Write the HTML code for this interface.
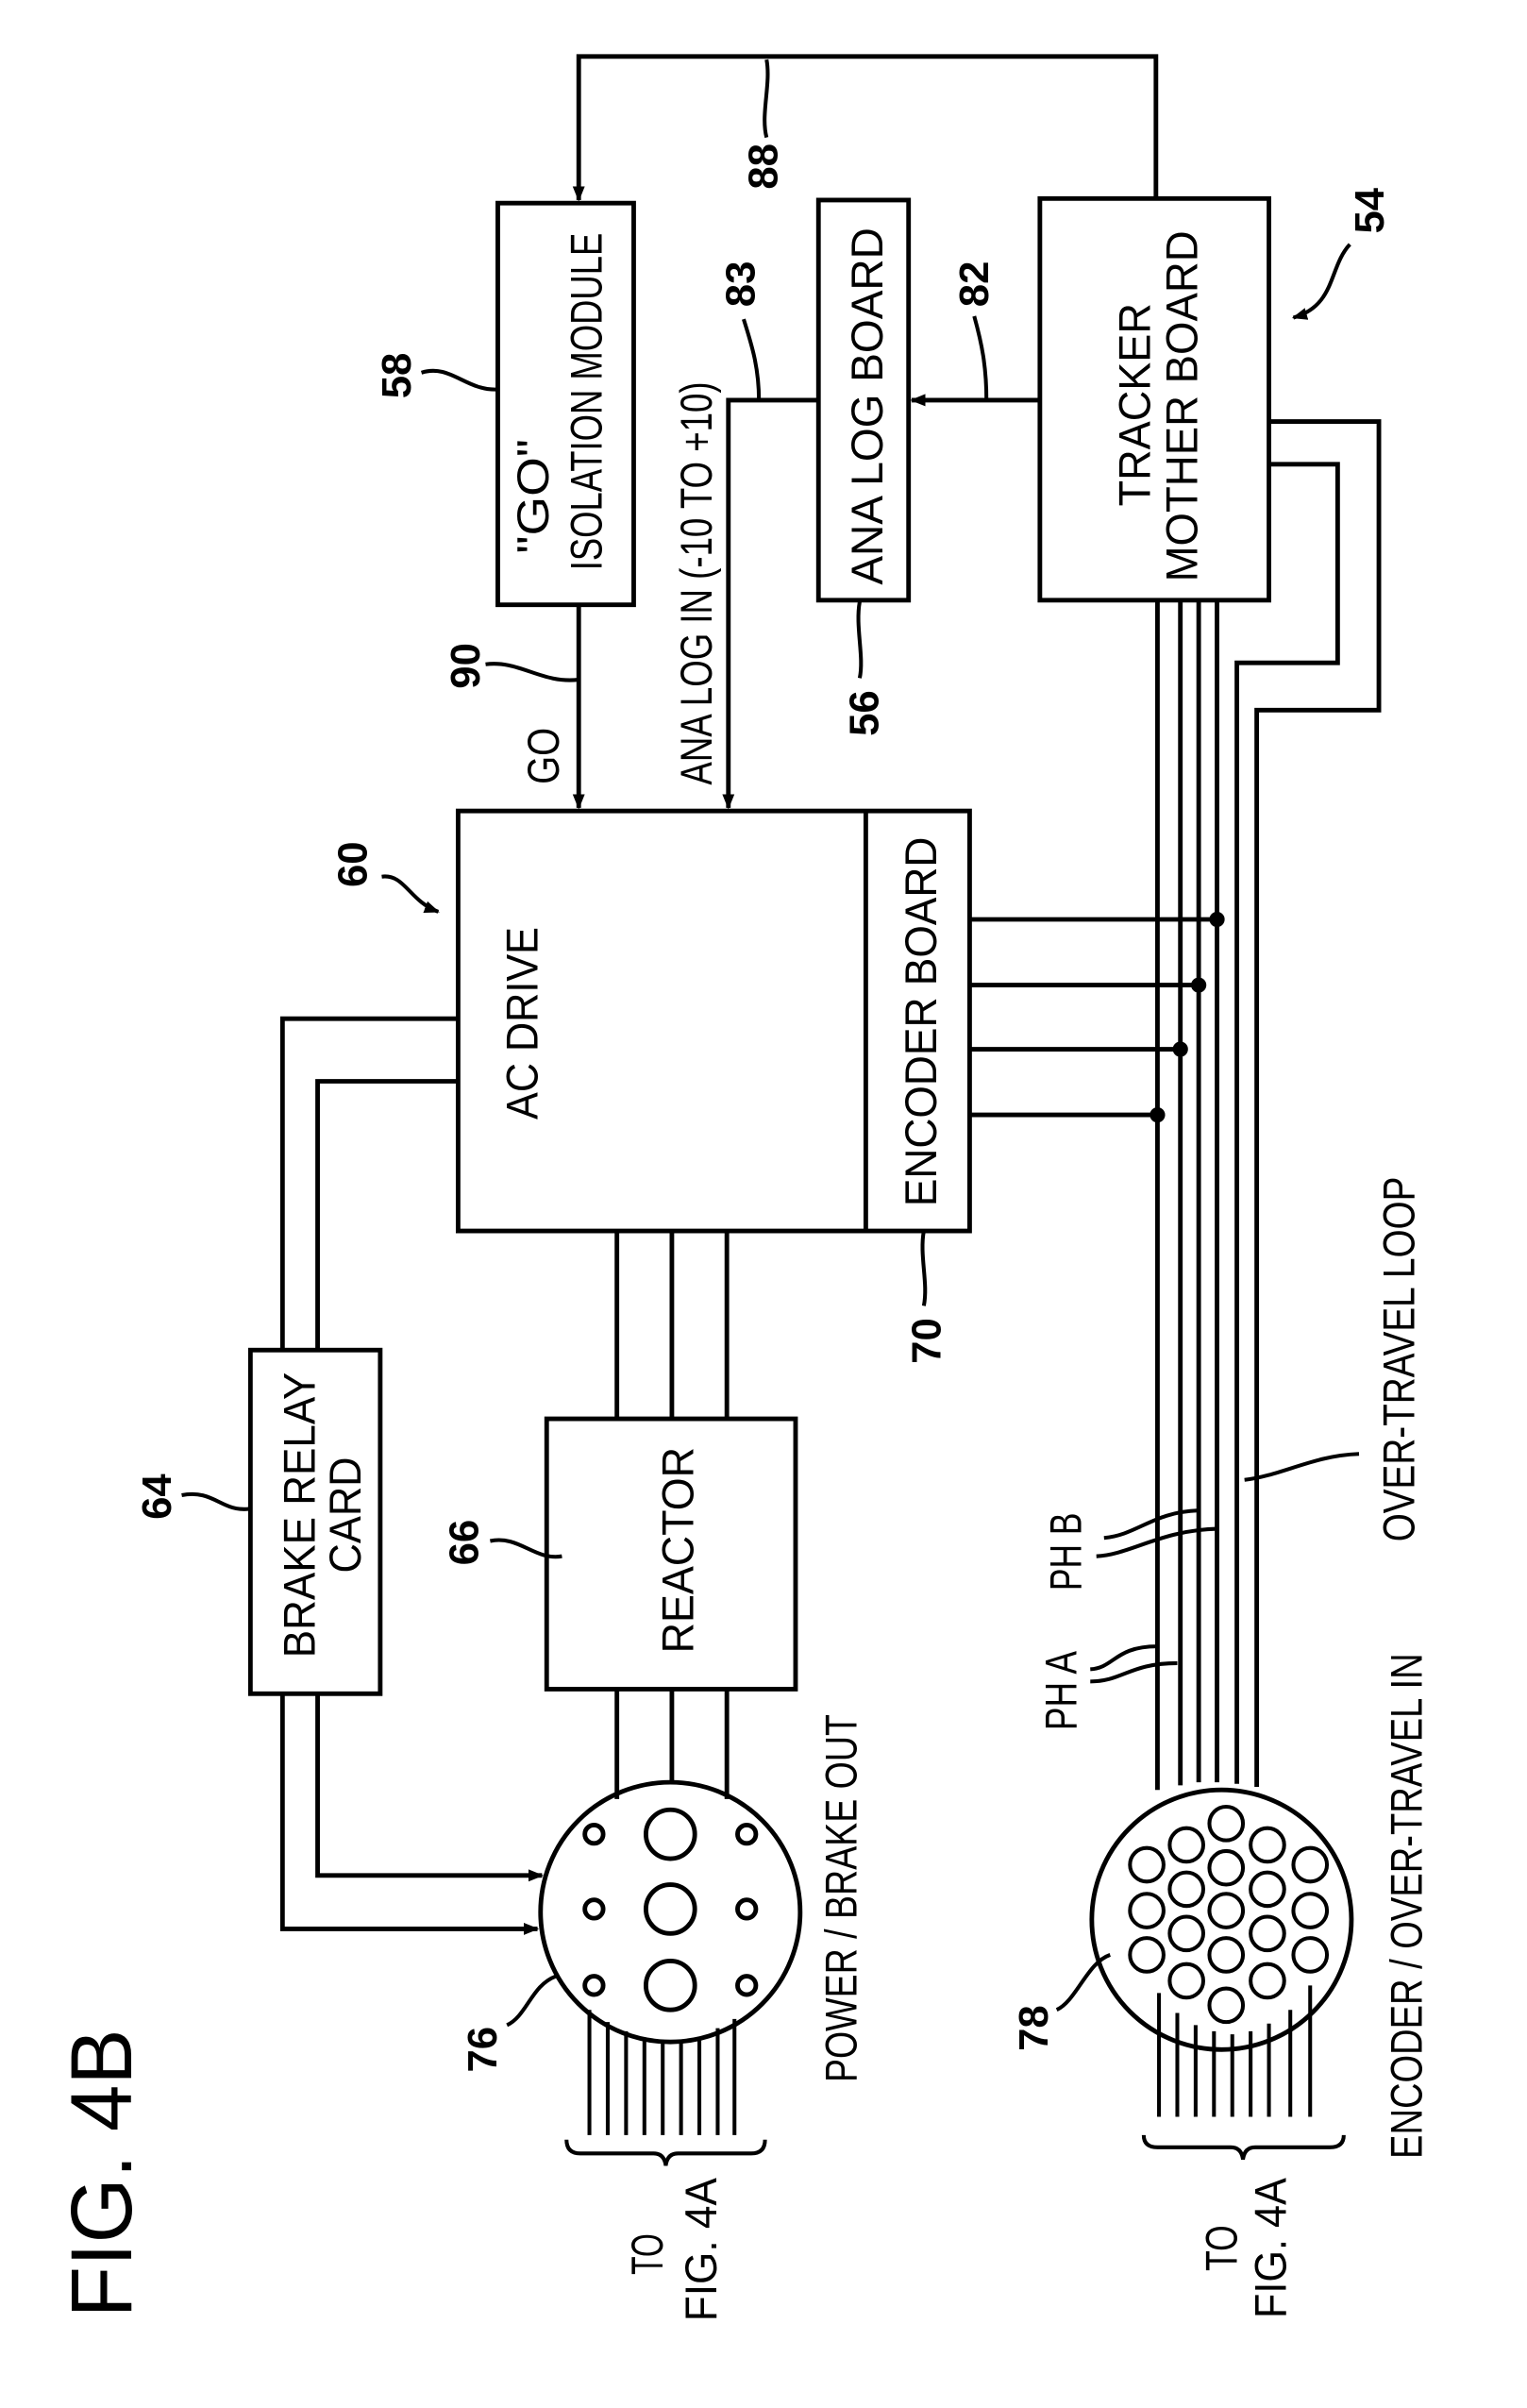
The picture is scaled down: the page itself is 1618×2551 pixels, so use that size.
<!DOCTYPE html>
<html><head><meta charset="utf-8"><style>
html,body{margin:0;padding:0;background:#fff;}
svg{display:block;}
text{font-family:"Liberation Sans",sans-serif;fill:#000;}
.t{font-size:29px;}
.n{font-size:27px;font-weight:bold;}
</style></head><body>
<svg width="1618" height="2551" viewBox="0 0 1000 1576.7" preserveAspectRatio="none" xmlns="http://www.w3.org/2000/svg">
<defs>
<marker id="a" markerWidth="10" markerHeight="10" refX="9" refY="5" orient="auto" markerUnits="userSpaceOnUse">
<path d="M0,1 L10,5 L0,9 Z" fill="#000"/></marker>
</defs>
<g fill="none" stroke="#000" stroke-width="3">
<!-- boxes -->
<rect x="326" y="133" width="89" height="263"/>
<rect x="536" y="131" width="59" height="262"/>
<rect x="681" y="130" width="150" height="263"/>
<rect x="300" y="531" width="335" height="275"/>
<line x1="567" y1="531" x2="567" y2="806"/>
<rect x="164" y="884" width="85" height="225"/>
<rect x="358" y="929" width="163" height="177"/>
<!-- top feedback -->
<path d="M757,130 V37 H379 V131" marker-end="url(#a)"/>
<!-- 82 -->
<path d="M681,262 H597" marker-end="url(#a)"/>
<!-- ana log in -->
<path d="M536,262 H477 V529" marker-end="url(#a)"/>
<!-- GO -->
<path d="M379,396 V529" marker-end="url(#a)"/>
<!-- encoder wires -->
<line x1="758" y1="393" x2="758" y2="1172"/>
<line x1="773" y1="393" x2="773" y2="1169"/>
<line x1="785" y1="393" x2="785" y2="1167"/>
<line x1="797" y1="393" x2="797" y2="1167"/>
<path d="M831,276 H903 V465 H823 V1170"/>
<path d="M831,304 H876 V434 H810 V1168"/>
<line x1="635" y1="602" x2="797" y2="602"/>
<line x1="635" y1="645" x2="785" y2="645"/>
<line x1="635" y1="687" x2="773" y2="687"/>
<line x1="635" y1="730" x2="758" y2="730"/>
<!-- brake -->
<path d="M300,667 H185 V884"/>
<path d="M300,708 H208 V884"/>
<path d="M185,1109 V1263 H352" marker-end="url(#a)"/>
<path d="M208,1109 V1228 H355" marker-end="url(#a)"/>
<!-- reactor wires -->
<line x1="404" y1="806" x2="404" y2="929"/>
<line x1="440" y1="806" x2="440" y2="929"/>
<line x1="476" y1="806" x2="476" y2="929"/>
<line x1="404" y1="1106" x2="404" y2="1178"/>
<line x1="440" y1="1106" x2="440" y2="1168"/>
<line x1="476" y1="1106" x2="476" y2="1178"/>
<!-- connector 76 -->
<circle cx="439" cy="1252" r="85"/>
<circle cx="439" cy="1201" r="16"/>
<circle cx="439" cy="1250" r="16"/>
<circle cx="439" cy="1300" r="16"/>
<circle cx="389" cy="1201" r="6"/><circle cx="389" cy="1250" r="6"/><circle cx="389" cy="1300" r="6"/>
<circle cx="489" cy="1201" r="6"/><circle cx="489" cy="1250" r="6"/><circle cx="489" cy="1300" r="6"/>
</g>
<g stroke="#000" stroke-width="2.5" fill="none">
<line x1="386" y1="1316" x2="386" y2="1398"/>
<line x1="398" y1="1324" x2="398" y2="1398"/>
<line x1="410" y1="1330" x2="410" y2="1398"/>
<line x1="422" y1="1334" x2="422" y2="1398"/>
<line x1="434" y1="1337" x2="434" y2="1398"/>
<line x1="446" y1="1337" x2="446" y2="1398"/>
<line x1="458" y1="1334" x2="458" y2="1398"/>
<line x1="470" y1="1328" x2="470" y2="1398"/>
<line x1="481" y1="1322" x2="481" y2="1398"/>
<path d="M371,1401 Q371,1410 380,1410 H428 Q435,1410 436,1418 Q437,1410 444,1410 H492 Q501,1410 501,1401"/>
<line x1="759" y1="1305" x2="759" y2="1386"/>
<line x1="771" y1="1318" x2="771" y2="1386"/>
<line x1="783" y1="1326" x2="783" y2="1386"/>
<line x1="795" y1="1330" x2="795" y2="1386"/>
<line x1="807" y1="1332" x2="807" y2="1386"/>
<line x1="819" y1="1330" x2="819" y2="1386"/>
<line x1="831" y1="1325" x2="831" y2="1386"/>
<line x1="845" y1="1316" x2="845" y2="1386"/>
<line x1="858" y1="1300" x2="858" y2="1386"/>
<path d="M749,1398 Q749,1406 758,1406 H806 Q813,1406 814,1414 Q815,1406 822,1406 H871 Q880,1406 880,1398"/>
<!-- leaders -->
<path d="M276,244 C295,238 305,256 326,255"/>
<path d="M502,39 C505,55 498,75 502,90"/>
<path d="M487,209 C492,225 497,240 497,262"/>
<path d="M638,207 C643,225 646,240 646,262"/>
<path d="M563,394 C560,410 566,430 563,444"/>
<path d="M318,435 C340,432 355,448 379,445"/>
<path d="M605,806 C602,822 608,840 605,855"/>
<path d="M321,1009 C340,1005 350,1022 368,1019"/>
<path d="M119,979 C140,975 145,990 163,988"/>
<path d="M332,1326 C345,1320 348,1300 364,1294"/>
<path d="M692,1316 C705,1310 712,1285 727,1280"/>
<path d="M815,969 C840,966 860,953 890,952"/>
<path d="M723,1007 C745,1005 755,990 785,989"/>
<path d="M718,1019 C740,1018 760,1002 797,1001"/>
<path d="M714,1093 C730,1092 730,1078 758,1078"/>
<path d="M714,1101 C735,1101 740,1089 771,1089"/>
<path d="M884,160 C870,175 875,200 847,208" marker-end="url(#a)"/>
<path d="M250,574 C265,572 268,590 287,597" marker-end="url(#a)"/>
</g>
<!-- connector 78 -->
<g fill="none" stroke="#000" stroke-width="3">
<circle cx="800" cy="1257" r="85"/>
<g stroke-width="2.5">
<circle cx="751" cy="1221" r="11"/><circle cx="751" cy="1251" r="11"/><circle cx="751" cy="1280" r="11"/>
<circle cx="777" cy="1208" r="11"/><circle cx="777" cy="1237" r="11"/><circle cx="777" cy="1266" r="11"/><circle cx="777" cy="1297" r="11"/>
<circle cx="803" cy="1194" r="11"/><circle cx="803" cy="1223" r="11"/><circle cx="803" cy="1251" r="11"/><circle cx="803" cy="1280" r="11"/><circle cx="803" cy="1313" r="11"/>
<circle cx="830" cy="1208" r="11"/><circle cx="830" cy="1237" r="11"/><circle cx="830" cy="1266" r="11"/><circle cx="830" cy="1297" r="11"/>
<circle cx="858" cy="1221" r="11"/><circle cx="858" cy="1251" r="11"/><circle cx="858" cy="1280" r="11"/>
</g>
</g>
<g fill="#000">
<circle cx="797" cy="602" r="5"/><circle cx="785" cy="645" r="5"/>
<circle cx="773" cy="687" r="5"/><circle cx="758" cy="730" r="5"/>
</g>
<!-- labels -->
<g class="t" text-anchor="middle">
<text transform="translate(359,325) rotate(-90)" textLength="75" lengthAdjust="spacingAndGlyphs">"GO"</text>
<text transform="translate(394,263) rotate(-90)" textLength="221" lengthAdjust="spacingAndGlyphs">ISOLATION MODULE</text>
<text transform="translate(578,266) rotate(-90)" textLength="234" lengthAdjust="spacingAndGlyphs">ANA LOG BOARD</text>
<text transform="translate(753,265) rotate(-90)" textLength="133" lengthAdjust="spacingAndGlyphs">TRACKER</text>
<text transform="translate(784,266) rotate(-90)" textLength="230" lengthAdjust="spacingAndGlyphs">MOTHER BOARD</text>
<text transform="translate(466,382) rotate(-90)" textLength="264" lengthAdjust="spacingAndGlyphs">ANA LOG IN (-10 TO +10)</text>
<text transform="translate(366,495) rotate(-90)" textLength="37" lengthAdjust="spacingAndGlyphs">GO</text>
<text transform="translate(352,670) rotate(-90)" textLength="126" lengthAdjust="spacingAndGlyphs">AC DRIVE</text>
<text transform="translate(613,669) rotate(-90)" textLength="242" lengthAdjust="spacingAndGlyphs">ENCODER BOARD</text>
<text transform="translate(206,992) rotate(-90)" textLength="187" lengthAdjust="spacingAndGlyphs">BRAKE RELAY</text>
<text transform="translate(236,992) rotate(-90)" textLength="76" lengthAdjust="spacingAndGlyphs">CARD</text>
<text transform="translate(454,1015) rotate(-90)" textLength="135" lengthAdjust="spacingAndGlyphs">REACTOR</text>
<text transform="translate(708,1016) rotate(-90)" textLength="51" lengthAdjust="spacingAndGlyphs">PH B</text>
<text transform="translate(705,1107) rotate(-90)" textLength="52" lengthAdjust="spacingAndGlyphs">PH A</text>
<text transform="translate(926,890) rotate(-90)" textLength="239" lengthAdjust="spacingAndGlyphs">OVER-TRAVEL LOOP</text>
<text transform="translate(561,1243) rotate(-90)" textLength="241" lengthAdjust="spacingAndGlyphs">POWER / BRAKE OUT</text>
<text transform="translate(931,1248) rotate(-90)" textLength="331" lengthAdjust="spacingAndGlyphs">ENCODER / OVER-TRAVEL IN</text>
<text transform="translate(434,1476) rotate(-90)" textLength="27" lengthAdjust="spacingAndGlyphs">TO</text>
<text transform="translate(469,1473) rotate(-90)" textLength="94" lengthAdjust="spacingAndGlyphs">FIG. 4A</text>
<text transform="translate(810,1472) rotate(-90)" textLength="30" lengthAdjust="spacingAndGlyphs">TO</text>
<text transform="translate(842,1472) rotate(-90)" textLength="92" lengthAdjust="spacingAndGlyphs">FIG. 4A</text>
<text transform="translate(86,1423) rotate(-90)" style="font-size:57px" textLength="189" lengthAdjust="spacingAndGlyphs">FIG. 4B</text>
</g>
<g class="n" text-anchor="middle">
<text transform="translate(269,246) rotate(-90)">58</text>
<text transform="translate(509,109) rotate(-90)">88</text>
<text transform="translate(494,186) rotate(-90)">83</text>
<text transform="translate(647,186) rotate(-90)">82</text>
<text transform="translate(906,138) rotate(-90)">54</text>
<text transform="translate(575,467) rotate(-90)">56</text>
<text transform="translate(314,436) rotate(-90)">90</text>
<text transform="translate(240,566) rotate(-90)">60</text>
<text transform="translate(616,878) rotate(-90)">70</text>
<text transform="translate(313,1010) rotate(-90)">66</text>
<text transform="translate(112,980) rotate(-90)">64</text>
<text transform="translate(325,1342) rotate(-90)">76</text>
<text transform="translate(686,1328) rotate(-90)">78</text>
</g>
</svg>
</body></html>
